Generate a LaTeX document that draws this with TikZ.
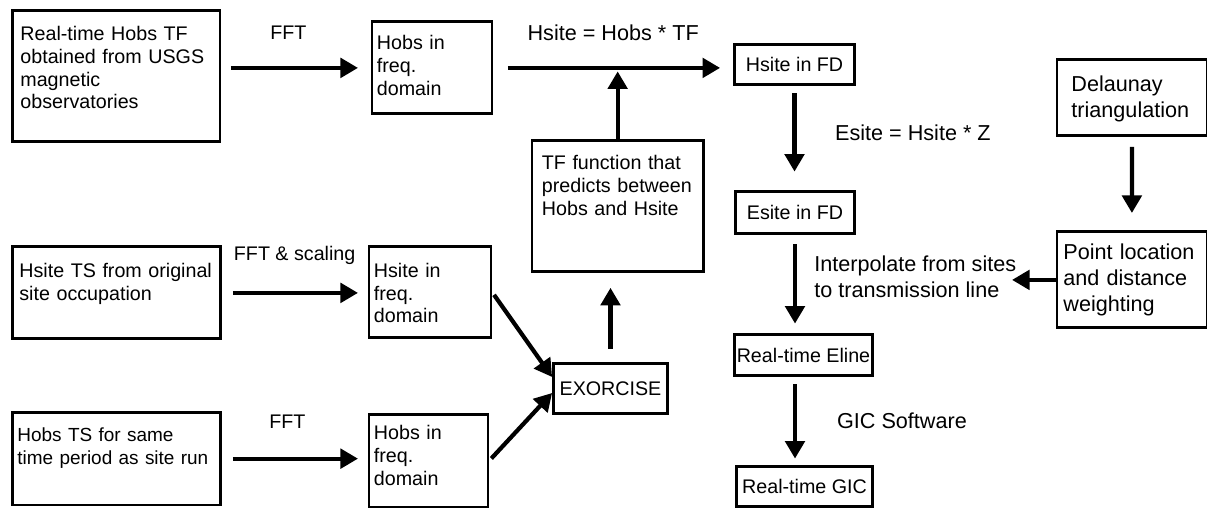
\documentclass[tikz,border=0pt]{standalone}
\usepackage{fontspec}
\setmainfont{Liberation Sans}
\usetikzlibrary{arrows.meta}
\newcommand{\boxfont}{\fontsize{11.2}{12.9}\selectfont}
\newcommand{\labfont}{\fontsize{12.3}{14.6}\selectfont}
\tikzset{
  box/.style={rectangle,draw=black,line width=1.6pt,anchor=north west,
              align=left,inner ysep=0pt,inner xsep=#1,font=\boxfont},
  box/.default=0.15cm,
  cbox/.style={rectangle,draw=black,line width=1.6pt,align=center,
               inner sep=0pt,font=\boxfont},
  lbl/.style={inner sep=0pt,align=left,font=#1},
  lbl/.default=\labfont,
  arr/.style={-{Triangle[length=10pt,width=11pt]},line width=2.4pt},
}
\begin{document}
\begin{tikzpicture}
  \useasboundingbox (0,0) rectangle (24.14,-10.2);
  % time series inputs
  \node[box,text width=3.84cm,text height=0.6cm,text depth=2.02cm]
       (obsTF) at (0.23,-0.19) {Real-time Hobs TF\\obtained from USGS\\magnetic\\observatories};
  \node[box=0.14cm,text width=3.88cm,text height=0.62cm,text depth=1.22cm]
       (siteTS) at (0.22,-4.91) {Hsite TS from original\\site occupation};
  \node[box=0.1cm,font=\fontsize{10.8}{12.9}\selectfont,text width=3.96cm,
        text height=0.58cm,text depth=1.27cm]
       (obsTS) at (0.22,-8.22) {Hobs TS for same\\time period as site run};
  % frequency domain
  \node[box=0.1cm,text width=2.2cm,text height=0.56cm,text depth=1.28cm]
       (obsFD) at (7.41,-0.41) {Hobs in\\freq.\\domain};
  \node[box=0.1cm,text width=2.24cm,text height=0.61cm,text depth=1.21cm]
       (siteFD) at (7.35,-4.91) {Hsite in\\freq.\\domain};
  \node[box=0.1cm,text width=2.18cm,text height=0.51cm,text depth=1.34cm]
       (obsFD2) at (7.35,-8.26) {Hobs in\\freq.\\domain};
  \node[box=0.2cm,text width=3.03cm,text height=0.58cm,text depth=2.04cm]
       (tfFun) at (10.61,-2.79) {TF function that\\predicts between\\Hobs and Hsite};
  \node[cbox,minimum width=2.28cm,minimum height=1cm] (exo) at (12.21,-7.77) {EXORCISE};
  % site field to line
  \node[cbox,minimum width=2.4cm,minimum height=0.8cm] (siteFDr) at (15.89,-1.29) {Hsite in FD};
  \node[cbox,minimum width=2.38cm,minimum height=0.84cm] (esite) at (15.9,-4.25) {Esite in FD};
  \node[cbox,minimum width=2.76cm,minimum height=0.82cm] (eline) at (16.07,-7.1) {Real-time Eline};
  \node[cbox,minimum width=2.72cm,minimum height=0.8cm] (gic) at (16.09,-9.73) {Real-time GIC};
  \node[box=0.29cm,font=\labfont,text width=2.42cm,text height=0.64cm,text depth=0.88cm]
       (delaunay) at (21.11,-1.17) {Delaunay\\triangulation};
  \node[box=0.13cm,font=\labfont,text width=2.74cm,text height=0.56cm,text depth=1.36cm]
       (ptloc) at (21.11,-4.61) {Point location\\and distance\\weighting};
  \node[lbl,anchor=west] (interp) at (16.28,-5.53) {Interpolate from sites\\to transmission line};

  \draw[arr,shorten <=0.19cm,shorten >=0.25cm] (obsTF.east |- obsFD.west)
    --node[pos=0.45,yshift=0.71cm,lbl=\boxfont]{FFT} (obsFD.west);
  \draw[arr,shorten <=0.29cm,shorten >=0.26cm] (obsFD.east)
    --node[midway,yshift=0.7cm,lbl]{Hsite = Hobs * TF} (obsFD.east -| siteFDr.west);
  \draw[arr,shorten >=0.07cm] (tfFun.north) -- (tfFun.north |- obsFD.east);
  \draw[arr,shorten <=0.27cm,shorten >=0.29cm] (exo.north) -- (exo.north |- tfFun.south);
  \draw[arr,shorten <=0.06cm] (siteFD.east) -- ([yshift=0.23cm]exo.west);
  \draw[arr,shorten <=0.06cm] (obsFD2.east) -- ([yshift=-0.09cm]exo.west);
  \draw[arr,shorten <=0.22cm,shorten >=0.19cm] (siteTS.east)
    --node[midway,yshift=0.75cm,lbl=\boxfont]{FFT \& scaling} (siteTS.east -| siteFD.west);
  \draw[arr,shorten <=0.22cm,shorten >=0.19cm] (obsTS.east)
    --node[pos=0.45,yshift=0.74cm,lbl=\boxfont]{FFT} (obsTS.east -| obsFD2.west);
  \draw[arr,shorten <=0.15cm,shorten >=0.37cm] (siteFDr.south)
    --node[pos=0.45,anchor=west,xshift=0.77cm,lbl]{Esite = Hsite * Z} (siteFDr.south |- esite.north);
  \draw[arr,shorten <=0.19cm,shorten >=0.19cm] (esite.south) -- (esite.south |- eline.north);
  \draw[arr,shorten <=0.19cm,shorten >=0.35cm] (delaunay.south) -- (ptloc.north);
  \draw[arr,shorten >=-0.09cm] (ptloc.west) -- (interp.east |- ptloc.west);
  \draw[arr,shorten <=0.15cm,shorten >=0.13cm] (esite.south |- eline.south)
    --node[midway,anchor=west,xshift=0.8cm,lbl]{GIC Software} (esite.south |- gic.north);
\end{tikzpicture}
\end{document}
